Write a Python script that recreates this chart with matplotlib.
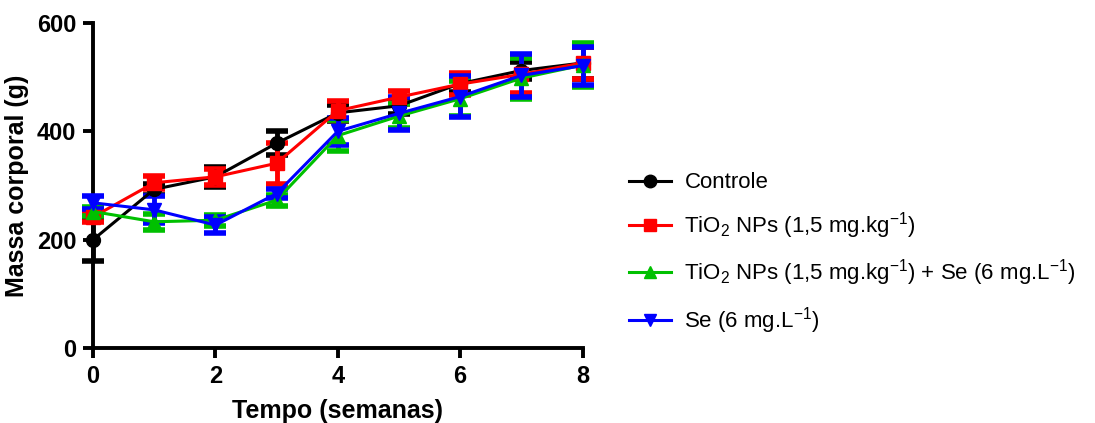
import matplotlib.pyplot as plt
from matplotlib.lines import Line2D

plt.rcParams['font.family'] = ['Liberation Sans', 'DejaVu Sans']
plt.rcParams['mathtext.fontset'] = 'custom'
plt.rcParams['mathtext.rm'] = 'Liberation Sans'
plt.rcParams['mathtext.it'] = 'Liberation Sans'
plt.rcParams['mathtext.default'] = 'regular'

semanas = [0, 1, 2, 3, 4, 5, 6, 7, 8]

controle = [200, 293, 316, 378, 434, 447, 488, 512, 526]
controle_err = [40, 10, 18, 22, 15, 15, 15, 15, 30]

tio2 = [242, 305, 316, 341, 438, 463, 487, 505, 526]
tio2_err = [10, 12, 15, 38, 18, 12, 20, 35, 30]

tio2_se = [252, 233, 236, 273, 392, 428, 460, 498, 522]
tio2_se_err = [8, 15, 10, 10, 28, 22, 32, 38, 40]

se = [268, 255, 227, 285, 400, 433, 464, 503, 521]
se_err = [12, 25, 15, 8, 25, 30, 38, 40, 35]

nomes = ['Controle',
         r'TiO$_2$ NPs (1,5 mg.kg$^{-1}$)',
         r'TiO$_2$ NPs (1,5 mg.kg$^{-1}$) + Se (6 mg.L$^{-1}$)',
         r'Se (6 mg.L$^{-1}$)']
cores = ['black', '#ff0000', '#00c000', '#0000ff']
marcadores = ['o', 's', '^', 'v']

fig = plt.figure(figsize=(10.95, 4.23), dpi=100)
ax = fig.add_axes([0.085, 0.177, 0.447, 0.769])

series = [(controle, controle_err), (tio2, tio2_err), (tio2_se, tio2_se_err), (se, se_err)]
handles = []
for (y, e), cor, m in zip(series, cores, marcadores):
    ax.errorbar(semanas, y, yerr=e, color=cor, marker=m, markersize=10,
                linewidth=2.2, elinewidth=3.5, capsize=8, capthick=4,
                clip_on=False, zorder=3)
    handles.append(Line2D([], [], color=cor, marker=m, markersize=9, linewidth=2.2))

ax.set_xlim(0, 8)
ax.set_ylim(0, 600)
ax.set_xticks([0, 2, 4, 6, 8])
ax.set_yticks([0, 200, 400, 600])
for s in ['top', 'right']:
    ax.spines[s].set_visible(False)
for s in ['left', 'bottom']:
    ax.spines[s].set_linewidth(2.8)
ax.tick_params(width=2.8, length=7, labelsize=17, pad=5)
for lab in ax.get_xticklabels() + ax.get_yticklabels():
    lab.set_fontweight('bold')
ax.set_xlabel('Tempo (semanas)', fontsize=18, fontweight='bold', labelpad=8)
ax.set_ylabel('Massa corporal (g)', fontsize=18, fontweight='bold', labelpad=6)

fig.legend(handles, nomes, loc='upper left', bbox_to_anchor=(0.556, 0.64),
           frameon=False, fontsize=16, handlelength=1.9, labelspacing=0.75,
           handletextpad=0.6)

fig.savefig('out.png', dpi=100)
